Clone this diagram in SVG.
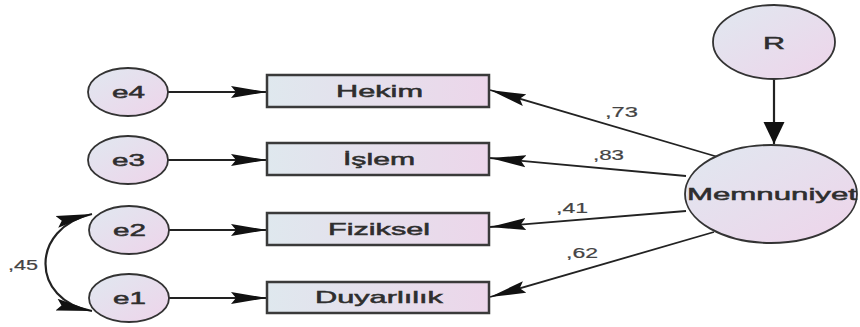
<svg xmlns="http://www.w3.org/2000/svg" width="860" height="327" viewBox="0 0 860 327">
<defs>
<linearGradient id="gRect" x1="0" y1="0" x2="1" y2="0">
<stop offset="0" stop-color="#dfe8ee"/>
<stop offset="1" stop-color="#ecd6ea"/>
</linearGradient>
<linearGradient id="gEll" x1="0" y1="0" x2="1" y2="1">
<stop offset="0" stop-color="#e0e8f0"/>
<stop offset="1" stop-color="#eed4ea"/>
</linearGradient>
<marker id="arrH" markerUnits="userSpaceOnUse" markerWidth="38" markerHeight="14" refX="36" refY="7" orient="auto-start-reverse" viewBox="0 0 38 14">
<path d="M0,1 L36,7 L0,13 L5,7 Z" fill="#111"/>
</marker>
<marker id="arrV" markerUnits="userSpaceOnUse" markerWidth="24" markerHeight="24" refX="22" refY="12" orient="auto" viewBox="0 0 24 24">
<path d="M0,1.5 L22,12 L0,22.5 Z" fill="#111"/>
</marker>
<style>
.box{fill:url(#gRect);stroke:#3a3a3a;stroke-width:2.5}
.ell{fill:url(#gEll);stroke:#333;stroke-width:1.8}
.lab{font-family:"Liberation Sans",Arial,sans-serif;font-size:17px;fill:#2e2e2e;stroke:#2e2e2e;stroke-width:0.5;text-anchor:middle}
.num{font-family:"Liberation Sans",Arial,sans-serif;font-size:14px;fill:#444;stroke:#444;stroke-width:0.2}
.ln{stroke:#222;stroke-width:1.8;fill:none;marker-end:url(#arrH)}
</style>
</defs>
<g id="connectors">
<line class="ln" x1="168" y1="92" x2="267" y2="92"/>
<line class="ln" x1="168" y1="160" x2="267" y2="160"/>
<line class="ln" x1="169" y1="230" x2="267" y2="230"/>
<line class="ln" x1="169" y1="298" x2="267" y2="298"/>
<line class="ln" x1="718" y1="157" x2="490" y2="90"/>
<line class="ln" x1="686" y1="176" x2="490" y2="158"/>
<line class="ln" x1="686" y1="211" x2="490" y2="227"/>
<line class="ln" x1="714" y1="232" x2="490" y2="297"/>
<line x1="774" y1="80" x2="774" y2="144" stroke="#222" stroke-width="2.2" marker-end="url(#arrV)"/>
<path d="M92,214 C30,228 30,300 92,311" stroke="#222" stroke-width="2.2" fill="none" marker-start="url(#arrH)" marker-end="url(#arrH)"/>
<text class="num" x="605" y="117" textLength="33" lengthAdjust="spacingAndGlyphs">,73</text>
<text class="num" x="593" y="160" textLength="31" lengthAdjust="spacingAndGlyphs">,83</text>
<text class="num" x="556" y="213" textLength="32" lengthAdjust="spacingAndGlyphs">,41</text>
<text class="num" x="566" y="258" textLength="32" lengthAdjust="spacingAndGlyphs">,62</text>
<text class="num" x="8" y="270" textLength="30" lengthAdjust="spacingAndGlyphs">,45</text>
</g>
<g id="node-e4">
<ellipse class="ell" cx="128" cy="92" rx="40" ry="24"/>
<text class="lab" x="128.5" y="98" textLength="33" lengthAdjust="spacingAndGlyphs">e4</text>
</g>
<g id="node-e3">
<ellipse class="ell" cx="128" cy="160" rx="40" ry="24"/>
<text class="lab" x="128.5" y="166" textLength="33" lengthAdjust="spacingAndGlyphs">e3</text>
</g>
<g id="node-e2">
<ellipse class="ell" cx="129" cy="230" rx="40" ry="24"/>
<text class="lab" x="129.5" y="236" textLength="33" lengthAdjust="spacingAndGlyphs">e2</text>
</g>
<g id="node-e1">
<ellipse class="ell" cx="129" cy="298" rx="40" ry="24"/>
<text class="lab" x="129.5" y="304" textLength="33" lengthAdjust="spacingAndGlyphs">e1</text>
</g>
<g id="node-hekim">
<rect class="box" x="267" y="75" width="222" height="32"/>
<text class="lab" x="379.5" y="97" textLength="87" lengthAdjust="spacingAndGlyphs">Hekim</text>
</g>
<g id="node-islem">
<rect class="box" x="267" y="143" width="222" height="32"/>
<text class="lab" x="379" y="165" textLength="72" lengthAdjust="spacingAndGlyphs">İşlem</text>
</g>
<g id="node-fiziksel">
<rect class="box" x="267" y="213" width="222" height="32"/>
<text class="lab" x="379" y="235" textLength="102" lengthAdjust="spacingAndGlyphs">Fiziksel</text>
</g>
<g id="node-duyarlilik">
<rect class="box" x="267" y="282" width="222" height="31"/>
<text class="lab" x="379" y="303" textLength="128" lengthAdjust="spacingAndGlyphs">Duyarlılık</text>
</g>
<g id="node-R">
<ellipse class="ell" cx="774" cy="42" rx="61" ry="37"/>
<text class="lab" x="774" y="49" textLength="22" lengthAdjust="spacingAndGlyphs">R</text>
</g>
<g id="node-memnuniyet">
<ellipse class="ell" cx="771" cy="194" rx="86" ry="49"/>
<text class="lab" x="772" y="200" textLength="170" lengthAdjust="spacingAndGlyphs">Memnuniyet</text>
</g>
</svg>
